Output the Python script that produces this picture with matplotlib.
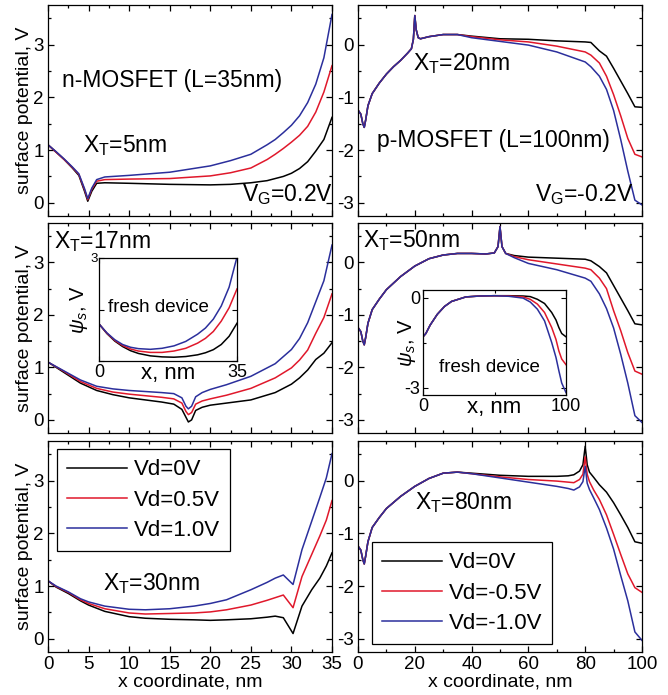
import numpy as np
import matplotlib.pyplot as plt
from matplotlib.ticker import MultipleLocator

plt.rcParams['font.family'] = ['Liberation Sans', 'DejaVu Sans']
plt.rcParams['mathtext.fontset'] = 'custom'
plt.rcParams['mathtext.rm'] = 'Liberation Sans'
plt.rcParams['mathtext.it'] = 'Liberation Sans:italic'
plt.rcParams['axes.unicode_minus'] = False

C_BLACK = 'black'
C_RED = '#e0182b'
C_BLUE = '#2b2f9c'

# ---- n-MOSFET, L=35nm ----
# XT = 5nm
xa = [0, 1, 2, 3, 3.8, 4.5, 4.9, 5.4, 6, 7, 10, 15, 20, 22.5, 25, 27, 28, 29, 30, 31, 32, 33, 34, 35]
a_vd0 = [1.10, 0.96, 0.82, 0.66, 0.52, 0.22, 0.03, 0.22, 0.37, 0.38, 0.37, 0.35, 0.34, 0.35, 0.38, 0.42, 0.46, 0.50, 0.56, 0.65, 0.78, 0.98, 1.20, 1.62]
a_vd05 = [1.10, 0.96, 0.82, 0.67, 0.54, 0.25, 0.06, 0.26, 0.41, 0.44, 0.45, 0.46, 0.51, 0.57, 0.66, 0.82, 0.92, 1.03, 1.15, 1.28, 1.45, 1.72, 2.10, 2.60]
a_vd1 = [1.10, 0.97, 0.83, 0.68, 0.55, 0.27, 0.08, 0.28, 0.44, 0.49, 0.52, 0.58, 0.70, 0.80, 0.92, 1.10, 1.20, 1.33, 1.47, 1.65, 1.90, 2.25, 2.75, 3.57]

# XT = 17nm
xb = [0, 2, 4, 6, 8, 10, 12, 14, 15.5, 16.5, 17, 17.3, 17.7, 18.2, 19, 20, 22, 25, 28, 30, 31, 32, 33, 34, 35]
b_vd0 = [1.10, 0.90, 0.70, 0.56, 0.48, 0.42, 0.38, 0.34, 0.30, 0.20, 0.05, -0.04, 0.00, 0.18, 0.24, 0.28, 0.32, 0.38, 0.52, 0.68, 0.80, 0.95, 1.15, 1.27, 1.47]
b_vd05 = [1.10, 0.92, 0.73, 0.60, 0.53, 0.49, 0.46, 0.43, 0.40, 0.32, 0.16, 0.10, 0.14, 0.30, 0.36, 0.40, 0.47, 0.60, 0.80, 0.99, 1.14, 1.33, 1.65, 1.95, 2.40]
b_vd1 = [1.10, 0.93, 0.76, 0.64, 0.59, 0.56, 0.54, 0.52, 0.50, 0.42, 0.26, 0.21, 0.26, 0.44, 0.52, 0.58, 0.67, 0.83, 1.07, 1.34, 1.55, 1.85, 2.25, 2.65, 3.33]

# XT = 30nm
xc = [0, 1, 2.5, 4, 5, 7, 10, 12, 15, 18, 20, 22, 25, 27, 28, 29, 30.2, 31.3, 32.5, 33.5, 34.3, 35]
c_vd0 = [1.10, 0.98, 0.86, 0.72, 0.64, 0.52, 0.42, 0.39, 0.37, 0.36, 0.35, 0.36, 0.38, 0.41, 0.43, 0.40, 0.10, 0.62, 0.93, 1.15, 1.38, 1.63]
c_vd05 = [1.10, 0.99, 0.88, 0.74, 0.67, 0.57, 0.49, 0.47, 0.48, 0.49, 0.51, 0.55, 0.64, 0.73, 0.78, 0.83, 0.59, 1.18, 1.60, 1.95, 2.25, 2.62]
c_vd1 = [1.10, 1.00, 0.89, 0.76, 0.70, 0.62, 0.56, 0.55, 0.57, 0.62, 0.67, 0.74, 0.93, 1.07, 1.15, 1.21, 1.03, 1.69, 2.23, 2.68, 3.05, 3.51]

# fresh device, n-MOSFET (inset)
xn = [0, 2, 4, 6, 8, 10, 13, 16, 19, 22, 25, 27, 29, 31, 33, 35]
n_vd0 = [1.08, 0.80, 0.58, 0.42, 0.30, 0.22, 0.15, 0.12, 0.11, 0.13, 0.18, 0.24, 0.33, 0.48, 0.72, 1.10]
n_vd05 = [1.08, 0.81, 0.60, 0.45, 0.35, 0.29, 0.25, 0.25, 0.29, 0.37, 0.52, 0.66, 0.86, 1.16, 1.55, 2.10]
n_vd1 = [1.08, 0.82, 0.62, 0.48, 0.40, 0.36, 0.34, 0.37, 0.44, 0.57, 0.78, 0.96, 1.22, 1.60, 2.15, 3.03]

# ---- p-MOSFET, L=100nm ----
# XT = 20nm
xd = [0, 1, 1.7, 2.2, 2.7, 3.5, 5, 7.5, 10, 12.5, 15, 17.5, 18.8, 19.5, 20, 20.5, 21.2, 22, 25, 30, 35,
      40, 50, 60, 70, 80, 82, 85, 87.5, 90, 92.5, 95, 97.5, 100]
d_head = [-1.24, -1.32, -1.50, -1.57, -1.43, -1.16, -0.93, -0.73, -0.56, -0.42, -0.30, -0.16, -0.08, 0.10, 0.55, 0.28, 0.13, 0.11, 0.15, 0.19, 0.19]
d_vd0 = [0.16, 0.11, 0.10, 0.07, 0.05, 0.04, -0.12, -0.22, -0.45, -0.69, -0.93, -1.18, -1.19]
d_vd05 = [0.15, 0.09, 0.05, -0.03, -0.14, -0.20, -0.35, -0.60, -0.95, -1.35, -1.78, -2.08, -2.13]
d_vd1 = [0.13, 0.06, -0.01, -0.14, -0.33, -0.42, -0.60, -0.85, -1.25, -1.80, -2.40, -2.95, -3.04]

# XT = 50nm
xe = [0, 1, 1.7, 2.2, 2.7, 3.5, 5, 7.5, 10, 15, 20, 25, 30, 35, 40, 45, 48, 49.3, 50, 50.7, 52,
      55, 60, 70, 80, 82, 85, 87.5, 90, 92.5, 95, 97.5, 100]
e_head = [-1.24, -1.32, -1.50, -1.57, -1.43, -1.16, -0.90, -0.70, -0.52, -0.27, -0.07, 0.07, 0.14, 0.17, 0.17, 0.16, 0.18, 0.30, 0.68, 0.30, 0.17]
e_vd0 = [0.13, 0.10, 0.08, 0.06, 0.03, -0.08, -0.20, -0.44, -0.68, -0.92, -1.17, -1.19]
e_vd05 = [0.11, 0.05, -0.03, -0.11, -0.14, -0.30, -0.50, -0.92, -1.30, -1.72, -2.07, -2.13]
e_vd1 = [0.09, -0.02, -0.14, -0.30, -0.36, -0.60, -0.88, -1.25, -1.75, -2.30, -2.92, -3.05]

# XT = 80nm
xf = [0, 1, 1.7, 2.2, 2.7, 3.5, 5, 7.5, 10, 15, 20, 25, 30, 35,
      40, 50, 60, 70, 74, 76, 78, 79.2, 80, 80.7, 81.5, 83, 85, 87.5, 90, 92.5, 95, 97.5, 100]
f_head = [-1.24, -1.32, -1.50, -1.58, -1.43, -1.16, -0.89, -0.70, -0.53, -0.30, -0.11, 0.04, 0.14, 0.16]
f_vd0 = [0.14, 0.10, 0.08, 0.08, 0.09, 0.11, 0.18, 0.30, 0.65, 0.30, 0.16, 0.06, -0.08, -0.22, -0.42, -0.65, -0.89, -1.16, -1.19]
f_vd05 = [0.13, 0.07, 0.02, -0.01, -0.03, -0.04, 0.02, 0.12, 0.45, 0.12, -0.02, -0.18, -0.36, -0.65, -1.02, -1.40, -1.77, -2.03, -2.12]
f_vd1 = [0.13, 0.05, -0.03, -0.11, -0.15, -0.18, -0.12, -0.02, 0.27, -0.05, -0.17, -0.33, -0.55, -0.90, -1.30, -1.80, -2.28, -2.87, -3.03]

# fresh device, p-MOSFET (inset)
xp = [0, 2, 5, 10, 15, 20, 30, 40, 50, 60, 70, 75, 80, 85, 90, 93, 95, 97, 100]
p_head = [-1.31, -1.20, -0.92, -0.56, -0.30, -0.13, 0.02, 0.05, 0.06]
p_vd0 = [0.06, 0.05, 0.03, -0.06, -0.20, -0.50, -0.75, -1.00, -1.20, -1.31]
p_vd05 = [0.05, 0.02, -0.06, -0.22, -0.50, -1.00, -1.40, -1.78, -2.05, -2.24]
p_vd1 = [0.04, -0.02, -0.15, -0.39, -0.78, -1.50, -2.00, -2.44, -2.85, -3.17]

n_labels = ['Vd=0V', 'Vd=0.5V', 'Vd=1.0V']
p_labels = ['Vd=0V', 'Vd=-0.5V', 'Vd=-1.0V']
colors = [C_BLACK, C_RED, C_BLUE]

W, H = 668, 695
fig = plt.figure(figsize=(W / 100, H / 100), dpi=100)


def box(l, t, r, b):
    return [l / W, 1 - b / H, (r - l) / W, (b - t) / H]


def style(ax, left):
    ax.tick_params(which='both', direction='in', top=True, right=True, labelsize=13.5, pad=3)
    ax.tick_params(which='major', length=4.5, width=0.9)
    ax.tick_params(which='minor', length=2.5, width=0.9)
    for s in ax.spines.values():
        s.set_linewidth(0.9)
    if left:
        ax.set_xlim(0, 35)
        ax.set_ylim(-0.25, 3.75)
        ax.xaxis.set_major_locator(MultipleLocator(5))
        ax.xaxis.set_minor_locator(MultipleLocator(2.5))
        ax.set_yticks([0, 1, 2, 3])
        ax.set_ylabel('surface potential, V', fontsize=14, labelpad=0)
    else:
        ax.set_xlim(0, 100)
        ax.set_ylim(-3.25, 0.75)
        ax.xaxis.set_major_locator(MultipleLocator(20))
        ax.xaxis.set_minor_locator(MultipleLocator(10))
        ax.set_yticks([0, -1, -2, -3])
    ax.yaxis.set_minor_locator(MultipleLocator(0.5))


rows = [(5, 216), (223, 433), (441, 652)]
axes = []
for t, b in rows:
    axl = fig.add_axes(box(48, t, 332, b))
    axr = fig.add_axes(box(358, t, 642, b))
    style(axl, True)
    style(axr, False)
    axes.append((axl, axr))

lw = 1.1
n_sets = [(xa, [a_vd0, a_vd05, a_vd1]), (xb, [b_vd0, b_vd05, b_vd1]), (xc, [c_vd0, c_vd05, c_vd1])]
p_sets = [(xd, d_head, [d_vd0, d_vd05, d_vd1]), (xe, e_head, [e_vd0, e_vd05, e_vd1]),
          (xf, f_head, [f_vd0, f_vd05, f_vd1])]

for i in range(3):
    axl, axr = axes[i]
    x, ys = n_sets[i]
    for y, c, lab in zip(ys, colors, n_labels):
        axl.plot(x, y, color=c, lw=lw, label=lab)
    x, head, tails = p_sets[i]
    for tail, c, lab in zip(tails, colors, p_labels):
        axr.plot(x, head + tail, color=c, lw=lw, label=lab)
    if i < 2:
        axl.tick_params(labelbottom=False)
        axr.tick_params(labelbottom=False)
    else:
        axl.set_xlabel('x coordinate, nm', fontsize=14, labelpad=0)
        axr.set_xlabel('x coordinate, nm', fontsize=14, labelpad=0)

fs = 16.5
xt = r'X$_\mathregular{T}$'
(a1, d1), (b1, e1), (c1, f1) = axes
a1.text(1.7, 2.2, 'n-MOSFET (L=35nm)', fontsize=fs)
a1.text(4.3, 0.97, xt + '=5nm', fontsize=fs)
a1.text(23.9, 0.03, r'V$_\mathregular{G}$=0.2V', fontsize=fs)
d1.text(19.4, -0.49, xt + '=20nm', fontsize=fs)
d1.text(6.7, -1.94, 'p-MOSFET (L=100nm)', fontsize=fs)
d1.text(62.3, -2.97, r'V$_\mathregular{G}$=-0.2V', fontsize=fs)
b1.text(0.8, 3.27, xt + '=17nm', fontsize=fs)
e1.text(1.8, 0.29, xt + '=50nm', fontsize=fs)
c1.text(6.8, 0.92, xt + '=30nm', fontsize=fs)
f1.text(20, -0.54, xt + '=80nm', fontsize=fs)

leg_kw = dict(fontsize=16, frameon=True, fancybox=False, framealpha=1, edgecolor='black',
              handlelength=2.7, handletextpad=0.3, labelspacing=0.42, borderpad=0.45,
              borderaxespad=0, loc='upper left')
lg = c1.legend(bbox_to_anchor=(0.032, 0.96), **leg_kw)
lg.get_frame().set_linewidth(0.9)
lg = f1.legend(bbox_to_anchor=(0.049, 0.52), **leg_kw)
lg.get_frame().set_linewidth(0.9)

# insets, fresh device
ins_n = fig.add_axes(box(99, 258, 237, 361))
for y, c in zip([n_vd0, n_vd05, n_vd1], colors):
    ins_n.plot(xn, y, color=c, lw=lw)
ins_n.set_xlim(0, 35)
ins_n.set_ylim(0, 3)
ins_n.set_xticks([0, 35])
ins_n.set_yticks([0, 1.5, 3])
ins_n.set_yticklabels(['', '', '3'])
ins_n.text(2.2, 1.43, 'fresh device', fontsize=13.5)

ins_p = fig.add_axes(box(423, 290, 566, 395))
for tail, c in zip([p_vd0, p_vd05, p_vd1], colors):
    ins_p.plot(xp, p_head + tail, color=c, lw=lw)
ins_p.set_xlim(0, 100)
ins_p.set_ylim(-3.25, 0.25)
ins_p.set_xticks([0, 100])
ins_p.set_xticks([50], minor=True)
ins_p.set_yticks([0, -3])
ins_p.set_yticks([-1.5], minor=True)
ins_p.text(11, -2.5, 'fresh device', fontsize=13.5)

for ax in (ins_n, ins_p):
    ax.tick_params(which='both', direction='in', top=True, right=True, labelsize=13, pad=2)
    ax.tick_params(which='major', length=3.5, width=0.8)
    ax.tick_params(which='minor', length=2, width=0.8)
    ax.set_xlabel('x, nm', fontsize=16, labelpad=-13)
    for s in ax.spines.values():
        s.set_linewidth(0.9)
ins_n.set_ylabel(r'$\psi_s$, V', fontsize=14.5, labelpad=0)
ins_p.set_ylabel(r'$\psi_s$, V', fontsize=14.5, labelpad=-10)
ins_n.tick_params(axis='y', labelsize=9.5, pad=1)

fig.savefig('out.png', dpi=100)
